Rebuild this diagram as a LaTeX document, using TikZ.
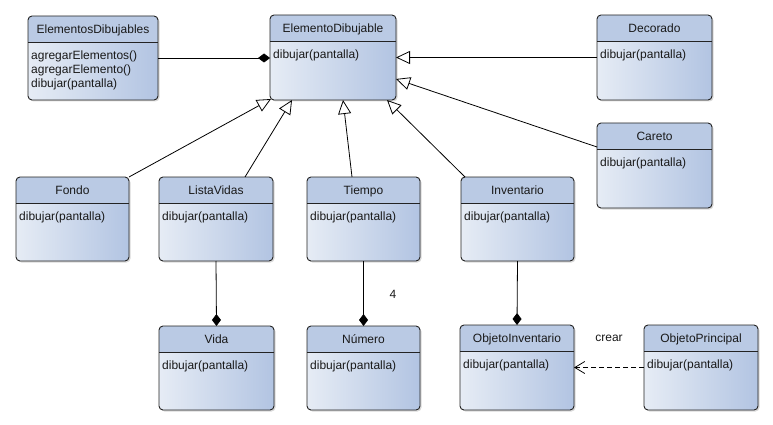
\documentclass[tikz,border=0pt]{standalone}
\usepackage{fontspec}
\setmainfont{Liberation Sans}
\usetikzlibrary{arrows.meta}

\definecolor{headfillc}{RGB}{186,202,228}
\definecolor{bodyl}{RGB}{230,236,245}
\definecolor{bodyr}{RGB}{178,196,226}
\definecolor{edgec}{RGB}{35,35,35}
\definecolor{textc}{RGB}{25,25,25}

\tikzset{
  classbody/.style={rectangle, rounded corners=4pt, inner sep=0pt, outer sep=0pt,
    left color=bodyl, right color=bodyr, draw=none},
  headfill/.style={fill=headfillc},
  classline/.style={draw=edgec, line width=0.9pt},
  boxshadow/.style={fill=black, opacity=0.15, rounded corners=4pt},
  classtitle/.style={inner sep=0pt, anchor=base, text=textc, font=\fontsize{12}{14}\selectfont},
  classops/.style={inner sep=0pt, anchor=north west, align=left, text=textc,
    font=\fontsize{12}{14}\selectfont},
  lbl/.style={inner sep=0pt, text=textc, font=\fontsize{12}{14}\selectfont},
  conn/.style={draw=black, line width=0.8pt},
  inherit/.style={conn, -{Triangle[open, length=14pt, width=13pt, fill=white, line width=0.8pt]}},
  compose/.style={conn, -{Diamond[length=12pt, width=9pt]}},
  depend/.style={conn, dash pattern=on 5pt off 3pt,
    -{Straight Barb[length=10pt, width=12pt, line width=0.8pt]}},
}

% class box: name, left, top, width, height, title, operations
\newcommand\umlclass[7]{%
  \fill[boxshadow] (#2+1.5,#3+1.5) rectangle (#2+#4+1.5,#3+#5+1.5);
  \node[classbody, minimum width=#4pt, minimum height=#5pt, anchor=north west] (#1) at (#2,#3) {};
  \begin{scope}
    \clip[rounded corners=4pt] (#1.north west) rectangle (#1.south east);
    \fill[headfill] (#1.north west) rectangle ([yshift=-26pt]#1.north east);
  \end{scope}
  \draw[classline] ([yshift=-26pt]#1.north west) -- ([yshift=-26pt]#1.north east);
  \draw[classline, rounded corners=4pt] (#1.north west) rectangle (#1.south east);
  \node[classtitle] (#1-name) at ([yshift=-17.5pt]#1.north) {#6};
  \node[classops] (#1-ops) at ([xshift=3pt,yshift=-35pt]#1.north west) {#7};
}

\begin{document}
\begin{tikzpicture}[x=1pt,y=-1pt]
\fill[white] (0,0) rectangle (773,425);
\useasboundingbox (0,0) rectangle (773,425);

\umlclass{eds}{28}{16}{130}{84}{ElementosDibujables}{agregarElementos()\\agregarElemento()\\dibujar(pantalla)}
\umlclass{ed}{270}{15}{126}{85}{ElementoDibujable}{dibujar(pantalla)}
\umlclass{deco}{597}{15}{115}{85}{Decorado}{dibujar(pantalla)}
\umlclass{careto}{597}{123}{115}{85}{Careto}{dibujar(pantalla)}
\umlclass{fondo}{16}{177}{113}{84}{Fondo}{dibujar(pantalla)}
\umlclass{lv}{159}{177}{114}{84}{ListaVidas}{dibujar(pantalla)}
\umlclass{tiempo}{307}{177}{113}{84}{Tiempo}{dibujar(pantalla)}
\umlclass{inv}{461}{177}{113}{84}{Inventario}{dibujar(pantalla)}
\umlclass{vida}{159}{326}{115}{84}{Vida}{dibujar(pantalla)}
\umlclass{num}{307}{326}{113}{84}{Número}{dibujar(pantalla)}
\umlclass{oi}{460}{325}{114}{85}{ObjetoInventario}{dibujar(pantalla)}
\umlclass{op}{644}{325}{114}{85}{ObjetoPrincipal}{dibujar(pantalla)}

% composition
\draw[compose] (eds.east) -- (eds.east -| ed.west);
\draw[compose] (lv.south) -- (vida.north);
\draw[compose] (tiempo.south) -- (num.north);
\draw[compose] (inv.south) -- (oi.north);

% generalisation
\draw[inherit] (deco.west) -- (deco.west -| ed.east);
\draw[inherit] ([yshift=-24pt]careto.north west) -- ([yshift=-64pt]ed.north east);
\draw[inherit] (fondo.north east) -- ([xshift=1pt,yshift=1pt]ed.south west);
\draw[inherit] ([xshift=86pt]lv.north west) -- ([xshift=22pt]ed.south west);
\draw[inherit] ([xshift=45pt]tiempo.north west) -- ([xshift=73pt]ed.south west);
\draw[inherit] ([xshift=4pt]inv.north west) -- ([xshift=117pt]ed.south west);

% dependency
\draw[depend] (op.west) -- (op.west -| oi.east);

\node[lbl] (mult) at (393,294) {4};
\node[lbl] (crear) at (609,338) {crear};
\end{tikzpicture}
\end{document}
